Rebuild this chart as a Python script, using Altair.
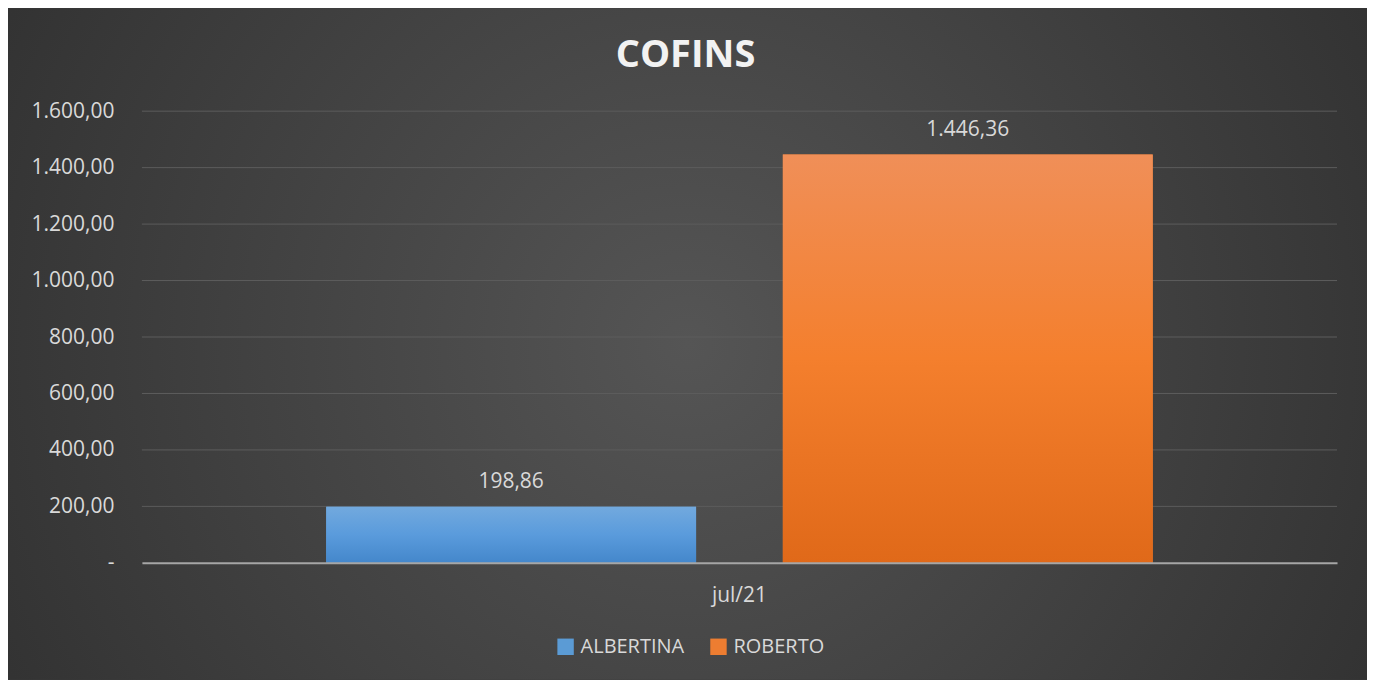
import altair as alt
import pandas as pd

months = ["jul/21"]
series = ["ALBERTINA", "ROBERTO"]
values = [198.86, 1446.36]
value_labels = ["198,86", "1.446,36"]
series_colors = ["#5b9bd5", "#ed7d31"]
y_ticks = [0, 200, 400, 600, 800, 1000, 1200, 1400, 1600]

df = pd.DataFrame({
    "mes": months * len(series),
    "serie": series,
    "valor": values,
    "rotulo": value_labels,
})
grid_df = pd.DataFrame({"valor": y_ticks[1:]})

W, H = 1196, 452
PAD = {"left": 134, "top": 103, "right": 30, "bottom": 117}
FONT = "Open Sans"
TXT = "#d9d9d9"
FS = 21

x_enc = alt.X("mes:N", title=None,
              scale=alt.Scale(paddingInner=0, paddingOuter=0.223),
              axis=alt.Axis(labelAngle=0, labelFontSize=FS, labelColor=TXT, labelFont=FONT,
                            labelPadding=22, ticks=False, domainColor="#a6a6a6",
                            domainWidth=2, grid=False, zindex=1))
xoff = alt.XOffset("serie:N", scale=alt.Scale(paddingInner=0.19, paddingOuter=0),
                   sort=series)
y_scale = alt.Scale(domain=[0, 1600], nice=False)
y_axis = alt.Axis(values=y_ticks, labelFontSize=FS, labelColor=TXT, labelFont=FONT,
                  labelPadding=28, ticks=False, domain=False, grid=False, zindex=1,
                  labelExpr="datum.value == 0 ? '-' : replace(replace(replace(format(datum.value, ',.2f'), ',', '#'), '.', ','), '#', '.')")
y_enc = alt.Y("valor:Q", title=None, scale=y_scale, axis=y_axis)

bg = alt.Chart(pd.DataFrame({"k": [0]})).mark_rect(
    clip=False,
    fill=alt.RadialGradient(
        gradient="radial",
        stops=[alt.GradientStop(offset=0, color="#555555"),
               alt.GradientStop(offset=1, color="#272727")],
        x1=0.5, y1=0.5, r1=0, x2=0.5, y2=0.5, r2=0.75),
).encode(
    x=alt.value(-PAD["left"]), x2=alt.value(W + PAD["right"]),
    y=alt.value(-PAD["top"]), y2=alt.value(H + PAD["bottom"]),
)

grid = alt.Chart(grid_df).mark_rule(color="#5c5c5c", strokeWidth=1).encode(
    y=y_enc,
    x=alt.value(0), x2=alt.value(W),
)

base = alt.Chart(df).encode(x=x_enc, xOffset=xoff, y=y_enc)

bars_legend = base.mark_bar().encode(
    color=alt.Color("serie:N", sort=series,
                    scale=alt.Scale(domain=series, range=series_colors),
                    legend=alt.Legend(title=None, orient="none", direction="horizontal",
                                      legendX=414, legendY=526, symbolType="square",
                                      symbolSize=270, symbolStrokeWidth=0,
                                      labelFontSize=20, labelColor=TXT, labelFont=FONT,
                                      columnPadding=24, labelOffset=5, zindex=1))
)

grads = {
    "ALBERTINA": ["#72a9de", "#5a9bdc", "#4487cb"],
    "ROBERTO": ["#f08f58", "#f47f2d", "#e06919"],
}
layers = [bg, grid, bars_legend]
for s in series:
    g = grads[s]
    layers.append(
        base.transform_filter(alt.datum.serie == s).mark_bar(
            color=alt.LinearGradient(
                gradient="linear", x1=0, x2=0, y1=0, y2=1,
                stops=[alt.GradientStop(offset=0, color=g[0]),
                       alt.GradientStop(offset=0.5, color=g[1]),
                       alt.GradientStop(offset=1, color=g[2])]))
    )

labels = base.mark_text(dy=-25, fontSize=FS, color=TXT, font=FONT).encode(
    text="rotulo:N")
layers.append(labels)

chart = alt.layer(*layers).properties(
    width=W, height=H,
    autosize=alt.AutoSizeParams(type="none"),
    padding=PAD,
    background="#3a3a3a",
    title=alt.TitleParams("COFINS", fontSize=38, font=FONT, fontWeight="bold",
                          color="#f2f2f2", anchor="middle", dx=-54, offset=-67,
                          frame="group", zindex=1),
).configure_view(stroke=None)

chart.save("out.html", embed_options={"renderer": "svg", "actions": False})
